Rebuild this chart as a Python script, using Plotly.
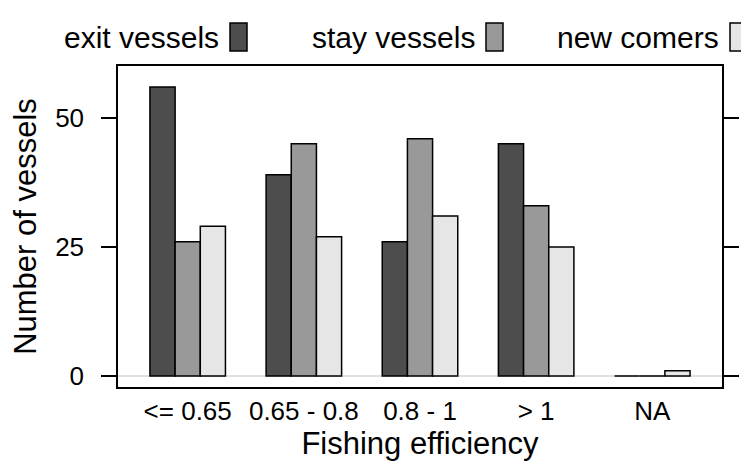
import plotly.graph_objects as go

categories = ["<= 0.65", "0.65 - 0.8", "0.8 - 1", "> 1", "NA"]
exit_vessels = [56, 39, 26, 45, 0]
stay_vessels = [26, 45, 46, 33, 0]
new_comers = [29, 27, 31, 25, 1]

series = [("exit vessels", exit_vessels, "#4d4d4d"),
          ("stay vessels", stay_vessels, "#999999"),
          ("new comers", new_comers, "#e6e6e6")]

FONT = "Liberation Sans, Arial, sans-serif"
W, H = 749, 466
L, R, T, B = 110, 35, 58, 87
pw, ph = W - L - R, H - T - B


def px(x):
    return (x - L) / pw


def py(y):
    return (H - B - y) / ph


fig = go.Figure()
for name, vals, col in series:
    fig.add_trace(go.Bar(x=categories, y=vals, name=name, marker_color=col,
                         marker_line=dict(color="black", width=1.5), showlegend=False))

# key on top: label first, then its box
key_box_x = [222, 478, 722]
for (name, vals, col), bx in zip(series, key_box_x):
    fig.add_annotation(text=name, x=px(bx - 9), y=py(29), xref="paper", yref="paper",
                       xanchor="right", yanchor="middle", showarrow=False,
                       font=dict(size=30, color="black", family=FONT))
    fig.add_shape(type="rect", xref="paper", yref="paper",
                  x0=px(bx), x1=px(bx + 17), y0=py(43), y1=py(15),
                  fillcolor=col, line=dict(color="black", width=1.5))

fig.update_layout(
    width=W, height=H,
    margin=dict(l=L, r=R, t=T, b=B),
    barmode="group", bargap=0.35, bargroupgap=0,
    plot_bgcolor="white", paper_bgcolor="white",
    font=dict(family=FONT, size=26, color="black"),
    xaxis=dict(range=[-0.6, 4.6], showline=True, mirror=True, linecolor="black",
               linewidth=1.5, ticks="", showgrid=False,
               title=dict(text="Fishing efficiency", font=dict(size=31), standoff=6)),
    yaxis=dict(range=[-2.13, 60.08], tickvals=[0, 25, 50], ticks="outside", ticklen=15,
               tickwidth=1.5, tickcolor="black", showline=True, mirror="ticks",
               linecolor="black", linewidth=1.5, showgrid=False, ticklabelstandoff=12,
               zeroline=True, zerolinecolor="#e0e0e0", zerolinewidth=1.5,
               title=dict(text="Number of vessels", font=dict(size=31), standoff=10)),
)

fig.write_html("out.html")
